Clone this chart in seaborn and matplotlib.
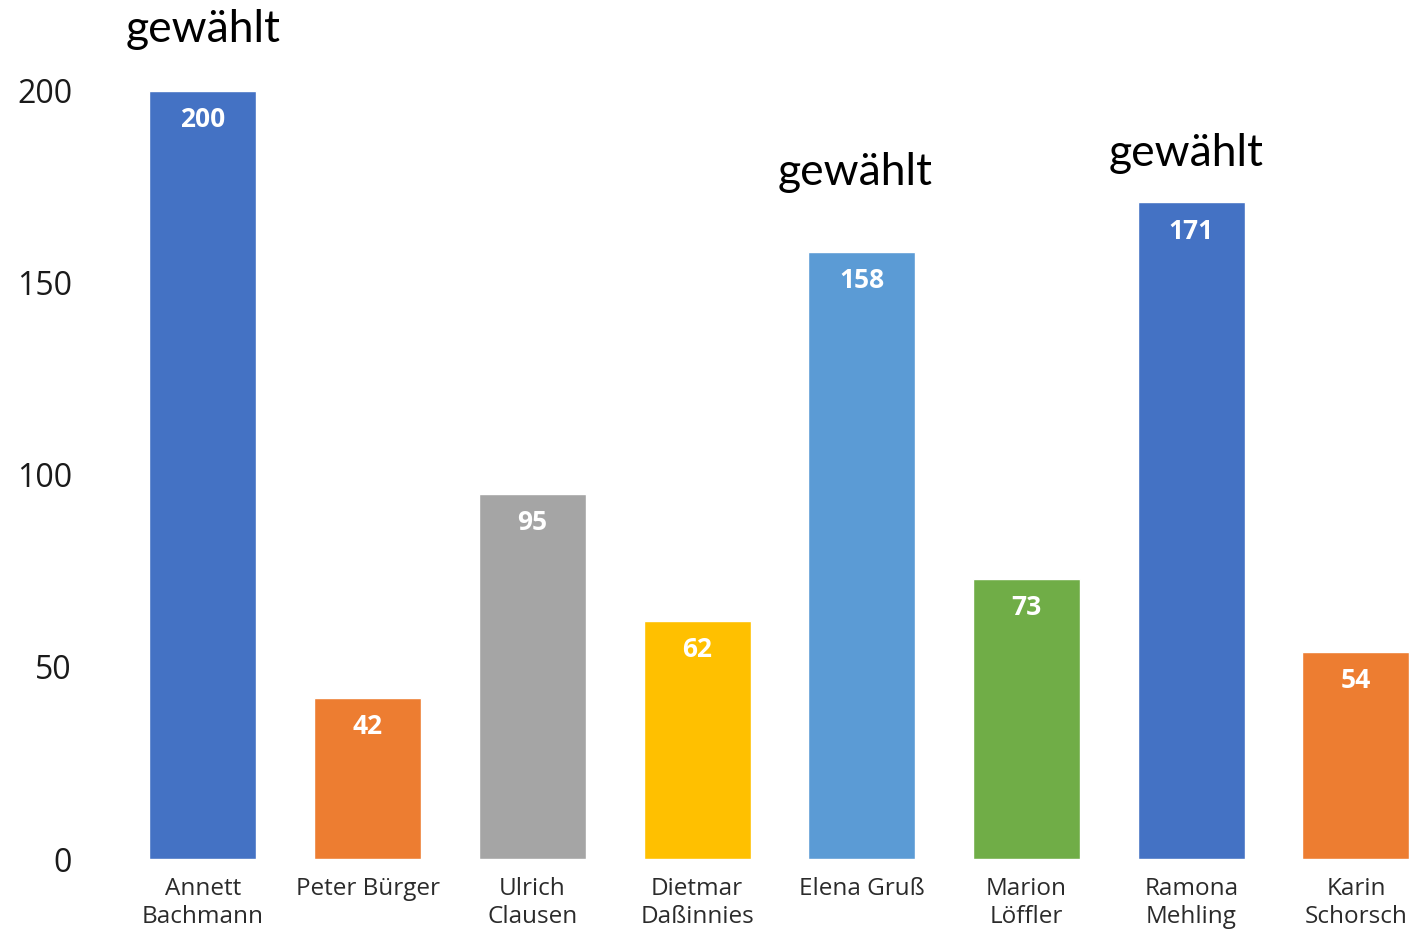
import matplotlib
matplotlib.use("Agg")
import matplotlib.pyplot as plt
import seaborn as sns

# Daten
names = ["Annett\nBachmann", "Peter Bürger", "Ulrich\nClausen", "Dietmar\nDaßinnies",
         "Elena Gruß", "Marion\nLöffler", "Ramona\nMehling", "Karin\nSchorsch"]
votes = [200, 42, 95, 62, 158, 73, 171, 54]
colors = ["#4472C4", "#ED7D31", "#A5A5A5", "#FFC000",
          "#5B9BD5", "#70AD47", "#4472C4", "#ED7D31"]
yticks = [0, 50, 100, 150, 200]

# "gewählt"-Markierungen: Index der Person, y-Position der Grundlinie
chosen_idx = [0, 4, 6]
chosen_y = [212.8, 175.5, 180.5]
chosen_dx = [0.0, -0.04, -0.03]

sns.set_theme(style="white")
plt.rcParams["font.family"] = ["Open Sans", "DejaVu Sans"]

fig = plt.figure(figsize=(14.14, 9.31), dpi=100)
ax = fig.add_axes([0.0853, 0.0773, 0.9144, 0.9076])

sns.barplot(x=names, y=votes, hue=names, palette=colors, width=0.65,
            saturation=1, legend=False, ax=ax)

for i, v in enumerate(votes):
    ax.text(i, v - 7.5, str(v), ha="center", va="center", color="white",
            fontsize=19, fontweight="bold")

for i, y, dx in zip(chosen_idx, chosen_y, chosen_dx):
    ax.text(i + dx, y, "gewählt", ha="center", va="baseline", color="black",
            fontsize=32, family=["Lato", "DejaVu Sans"], clip_on=False)

ax.set_xlim(-0.5, 7.35)
ax.set_ylim(0, 220)
ax.set_yticks(yticks)
ax.tick_params(axis="y", length=0, pad=35, labelsize=23, labelcolor="#1a1a1a")
ax.tick_params(axis="x", length=0, pad=13, labelsize=17.5, labelcolor="#2b2b2b")
for lbl in ax.get_xticklabels():
    lbl.set_linespacing(1.22)
sns.despine(ax=ax, left=True, bottom=True)
ax.set_xlabel("")
ax.set_ylabel("")

fig.savefig("out.png", dpi=100)
